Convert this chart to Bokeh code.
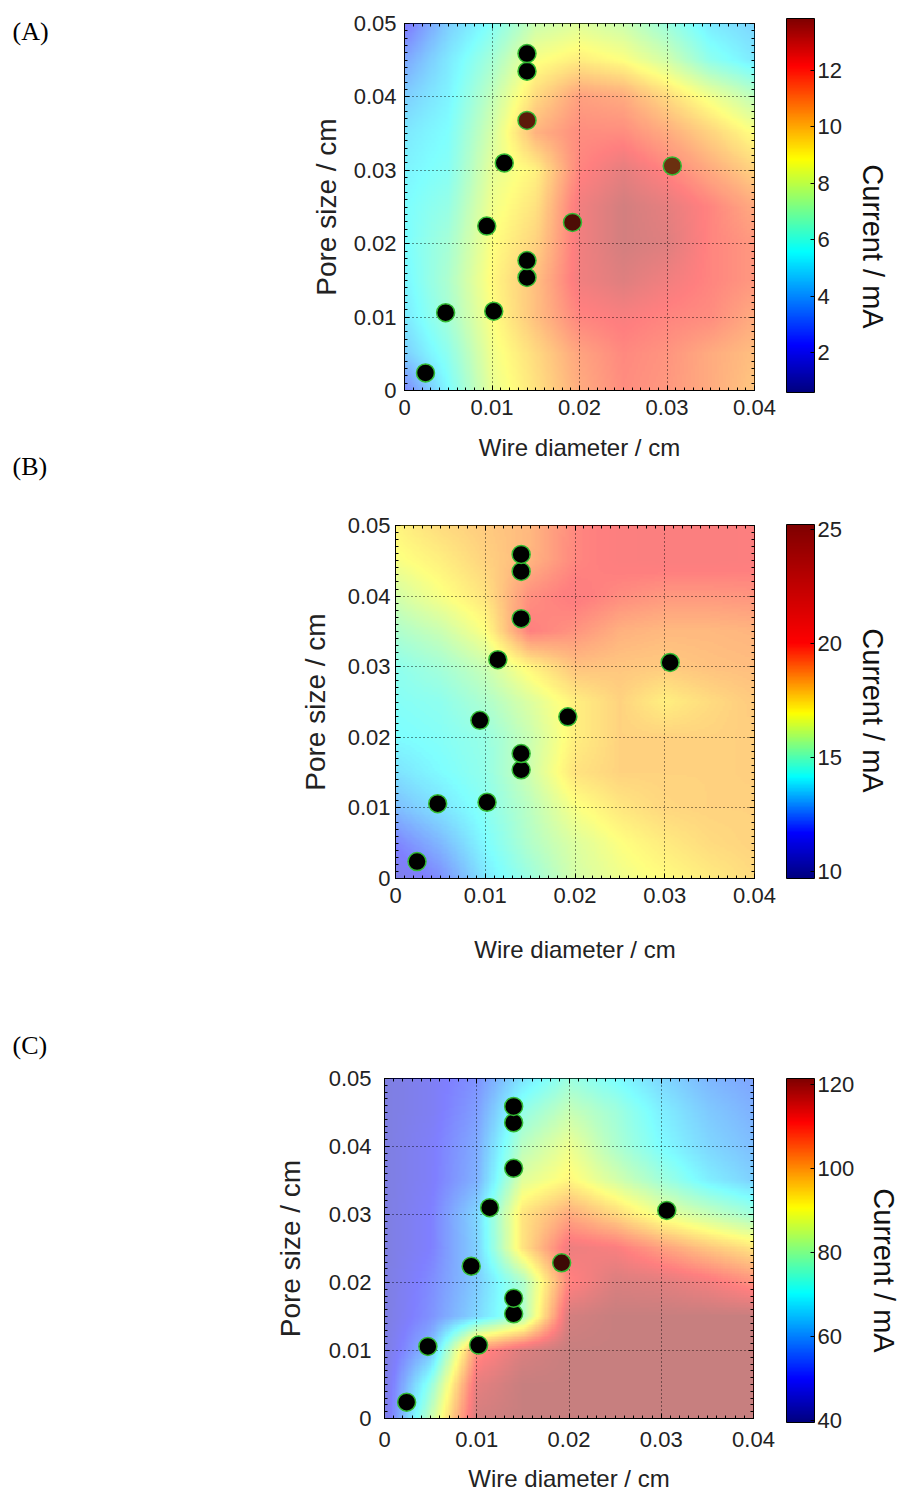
import numpy as np
from math import pi
from bokeh.plotting import figure
from bokeh.models import LinearColorMapper, ColorBar, FixedTicker, LinearAxis, Range1d
from bokeh.core.properties import value
from bokeh.embed import file_html
from bokeh.resources import INLINE

# ---------------- data ----------------
# grid nodes of the interpolated current surface
grid_wire = [0.0, 0.005, 0.01, 0.015, 0.02, 0.025, 0.03, 0.035, 0.04]
grid_pore = [0.0, 0.005, 0.01, 0.015, 0.02, 0.025, 0.03, 0.035, 0.04, 0.045, 0.05]

# current (mA): one row per pore size (ascending), columns = wire diameter
current_a = [
    [2.5, 5.5, 8.3, 9.6, 11.0, 11.8, 11.5, 11.0, 10.3],
    [4.3, 6.0, 8.5, 9.8, 11.2, 11.9, 11.6, 11.0, 10.5],
    [5.0, 6.6, 8.8, 10.5, 12.0, 12.3, 12.0, 11.8, 11.0],
    [5.3, 6.8, 9.0, 10.5, 12.5, 13.0, 12.5, 12.0, 11.5],
    [5.5, 6.6, 8.8, 10.0, 12.5, 13.3, 13.0, 12.0, 11.5],
    [5.5, 6.2, 8.5, 9.6, 12.5, 13.3, 12.8, 12.0, 11.0],
    [5.3, 5.8, 8.2, 9.2, 12.0, 12.8, 12.0, 11.0, 10.0],
    [5.0, 5.6, 7.8, 10.8, 11.8, 11.8, 11.0, 10.0, 8.8],
    [4.3, 5.3, 7.3, 9.8, 11.3, 11.0, 9.8, 8.5, 7.2],
    [3.3, 5.0, 6.6, 8.7, 9.3, 8.8, 7.7, 6.0, 5.0],
    [2.0, 4.3, 5.7, 7.5, 8.0, 7.5, 6.3, 5.0, 4.5],
]
current_b = [
    [11.0, 12.0, 13.7, 14.8, 16.0, 16.6, 17.0, 17.4, 17.8],
    [11.8, 12.8, 14.1, 15.3, 16.2, 16.9, 17.4, 17.8, 18.0],
    [12.9, 13.6, 14.4, 15.5, 16.8, 17.5, 17.9, 18.0, 18.0],
    [13.6, 14.1, 14.6, 15.9, 17.6, 18.0, 18.0, 18.0, 18.1],
    [14.1, 14.3, 14.7, 15.8, 17.3, 18.0, 18.0, 18.0, 18.1],
    [14.3, 14.5, 15.2, 16.2, 17.3, 18.0, 17.3, 17.8, 18.2],
    [14.5, 15.0, 15.8, 17.2, 18.4, 18.3, 18.2, 18.4, 18.5],
    [15.2, 15.8, 16.9, 20.0, 19.5, 18.8, 18.6, 18.6, 18.7],
    [16.0, 16.8, 17.6, 19.6, 20.2, 19.7, 19.4, 19.4, 19.5],
    [16.8, 17.3, 18.0, 18.7, 19.8, 20.2, 20.3, 20.3, 20.2],
    [17.2, 17.8, 18.2, 18.6, 19.8, 20.2, 20.3, 20.3, 20.2],
]
current_c = [
    [45, 82, 118, 120, 120, 120, 120, 120, 120],
    [45, 74, 115, 120, 120, 120, 120, 120, 120],
    [45, 60, 108, 117, 120, 120, 120, 120, 120],
    [45, 53, 64, 78, 118, 120, 120, 120, 120],
    [45, 52, 62, 78, 110, 117, 116, 113, 108],
    [45, 50, 63, 95, 114, 112, 106, 100, 95],
    [45, 50, 64, 95, 104, 97, 88, 82, 76],
    [45, 49, 58, 86, 92, 84, 76, 68, 63],
    [45, 49, 57, 80, 88, 78, 70, 64, 60],
    [45, 48, 55, 74, 82, 76, 68, 62, 58],
    [45, 48, 53, 66, 75, 70, 64, 59, 56],
]

# measured samples
wire_diameter = [0.0024, 0.0047, 0.0102, 0.0094, 0.0114, 0.0140, 0.0140, 0.0140, 0.0140, 0.0140, 0.0192, 0.0306]
pore_size = [0.0024, 0.0106, 0.0108, 0.0224, 0.0310, 0.0154, 0.0177, 0.0368, 0.0435, 0.0459, 0.0229, 0.0306]

x_ticks = [0, 0.01, 0.02, 0.03, 0.04]
x_tick_labels = ["0", "0.01", "0.02", "0.03", "0.04"]
y_ticks = [0, 0.01, 0.02, 0.03, 0.04, 0.05]
y_tick_labels = ["0", "0.01", "0.02", "0.03", "0.04", "0.05"]

cbar_range_a = (0.58, 13.84)
cbar_range_b = (9.7, 25.2)
cbar_range_c = (39.5, 121.5)
cbar_ticks_a = [2, 4, 6, 8, 10, 12]
cbar_ticks_b = [10, 15, 20, 25]
cbar_ticks_c = [40, 60, 80, 100, 120]

panel_labels = ["(A)", "(B)", "(C)"]
x_label = "Wire diameter / cm"
y_label = "Pore size / cm"
c_label = "Current / mA"

# ---------------- style ----------------
SANS = "Liberation Sans"
SERIF = "Liberation Serif"
PAGE_W, PAGE_H = 903, 1494


def jet_color(s):
    r = min(max(1.5 - abs(4 * s - 3), 0), 1)
    g = min(max(1.5 - abs(4 * s - 2), 0), 1)
    b = min(max(1.5 - abs(4 * s - 1), 0), 1)
    return "#%02x%02x%02x" % (int(r * 255), int(g * 255), int(b * 255))


jet = [jet_color(i / 255) for i in range(256)]
# panel B colour bar uses a jet with an extended red part
jet_b = [jet_color(float(np.interp(i / 255, [0, 0.127, 0.286, 0.467, 0.666, 1.0],
                                   [0, 0.125, 0.375, 0.625, 0.875, 1.0]))) for i in range(256)]

minor = [round(i * 0.001, 3) for i in range(0, 51)]


def display_raster(grid, nx=161, ny=201):
    """Smooth display raster of the read grid (bilinear shading between the grid nodes)."""
    g = np.asarray(grid, dtype=float)
    fx = np.linspace(grid_wire[0], grid_wire[-1], nx)
    fy = np.linspace(grid_pore[0], grid_pore[-1], ny)
    rows = np.array([np.interp(fx, grid_wire, r) for r in g])
    out = np.array([np.interp(fy, grid_pore, rows[:, j]) for j in range(nx)]).T
    return out, fx, fy


def make_panel(grid, rng, palette, cticks, pt_colors, L, T, FW, FH, R, B,
               ylab_std, ytick_std, xlab_std, xtick_std, cb_x, cb_y, cb_h):
    W = L + FW + R
    H = T + FH + B
    p = figure(width=W, height=H, output_backend="svg", toolbar_location=None,
               x_range=(x_ticks[0], x_ticks[-1]), y_range=(y_ticks[0], y_ticks[-1]),
               min_border_left=L, min_border_right=R, min_border_top=T, min_border_bottom=B,
               x_axis_label=x_label, y_axis_label=y_label)
    p.outline_line_color = "black"
    p.outline_line_width = 1
    p.background_fill_color = "white"
    p.border_fill_color = "white"

    mapper = LinearColorMapper(palette=palette, low=rng[0], high=rng[1])
    img, fx, fy = display_raster(grid)
    px = fx[1] - fx[0]
    py = fy[1] - fy[0]
    p.image(image=[img], x=fx[0] - px / 2, y=fy[0] - py / 2,
            dw=fx[-1] - fx[0] + px, dh=fy[-1] - fy[0] + py,
            color_mapper=mapper, global_alpha=0.5, level="image")

    p.grid.grid_line_color = "black"
    p.grid.grid_line_dash = "1 3"
    p.grid.grid_line_alpha = 0.85
    p.xgrid.ticker = FixedTicker(ticks=x_ticks)
    p.ygrid.ticker = FixedTicker(ticks=y_ticks)

    p.scatter(wire_diameter, pore_size, size=18, fill_color=pt_colors,
              line_color="#33bb33", line_width=1.5)

    for ax, ticks, labels in ((p.xaxis[0], x_ticks, x_tick_labels), (p.yaxis[0], y_ticks, y_tick_labels)):
        ax.ticker = FixedTicker(ticks=ticks, minor_ticks=minor)
        ax.major_label_overrides = dict(zip(ticks, labels))
        ax.major_tick_in = 5
        ax.major_tick_out = 0
        ax.minor_tick_in = 3
        ax.minor_tick_out = 0
        ax.axis_line_color = "black"
        ax.major_label_text_font = SANS
        ax.major_label_text_font_size = "22px"
        ax.major_label_text_color = "#222222"
        ax.axis_label_text_font = SANS
        ax.axis_label_text_font_style = "normal"
        ax.axis_label_text_color = "#222222"
    p.xaxis[0].axis_label_text_font_size = "24px"
    p.yaxis[0].axis_label_text_font_size = "28px"
    p.xaxis[0].major_label_standoff = xtick_std
    p.xaxis[0].axis_label_standoff = xlab_std
    p.yaxis[0].major_label_standoff = ytick_std
    p.yaxis[0].axis_label_standoff = ylab_std

    # mirrored inward ticks on the top and right edges (no labels)
    for side, ticks in (("above", x_ticks), ("right", y_ticks)):
        a = LinearAxis(ticker=FixedTicker(ticks=ticks, minor_ticks=minor),
                       major_label_text_color=None, major_label_text_font_size="10px",
                       major_tick_in=5, major_tick_out=0,
                       minor_tick_in=3, minor_tick_out=0, axis_line_color=None,
                       major_label_standoff=0)
        p.add_layout(a, side)

    cb = ColorBar(color_mapper=mapper, ticker=FixedTicker(ticks=cticks), location=(cb_x, cb_y),
                  width=28, height=cb_h, padding=0, margin=0, label_standoff=3,
                  bar_line_color="black", major_tick_line_color="black",
                  major_tick_in=4, major_tick_out=0,
                  major_label_text_font=SANS, major_label_text_font_size="22px",
                  major_label_text_color="#222222",
                  border_line_color=None, background_fill_color=None)
    p.add_layout(cb, "center")
    return p


colors_a = ["black"] * 7 + ["#5c1a0a", "black", "black", "#4d0d05", "#6b3010"]
colors_b = ["black"] * 12
colors_c = ["black"] * 10 + ["#3d0a05", "black"]

# Panel A: page y 0..470, frame x 404..754, y 23..390
pA = make_panel(current_a, cbar_range_a, jet, cbar_ticks_a, colors_a,
                L=404, T=23, FW=350, FH=367, R=149, B=80,
                ylab_std=9, ytick_std=8, xlab_std=16, xtick_std=9,
                cb_x=382, cb_y=-2, cb_h=374)
# Panel B: page y 470..1035, frame x 395..754, y 525..878
pB = make_panel(current_b, cbar_range_b, jet_b, cbar_ticks_b, colors_b,
                L=395, T=55, FW=359, FH=353, R=149, B=157,
                ylab_std=14, ytick_std=5, xlab_std=30, xtick_std=9,
                cb_x=391, cb_y=0, cb_h=354)
# Panel C: page y 1035..1494, frame x 384..753, y 1078..1418
pC = make_panel(current_c, cbar_range_c, jet, cbar_ticks_c, colors_c,
                L=384, T=43, FW=369, FH=340, R=150, B=76,
                ylab_std=20, ytick_std=13, xlab_std=15, xtick_std=13,
                cb_x=402, cb_y=-4, cb_h=344)

# free texts (panel letters, colour-bar titles) on a transparent page-size overlay
letter_x = [12, 12, 12]
letter_y = [31, 466, 1045]
clabel_x = [872, 872, 883]
clabel_y = [246, 710, 1270]

ov = figure(width=PAGE_W, height=PAGE_H, x_range=Range1d(0, PAGE_W), y_range=Range1d(0, PAGE_H),
            x_axis_type=None, y_axis_type=None, toolbar_location=None, output_backend="svg",
            min_border=0, outline_line_color=None, background_fill_color=None, border_fill_color=None)
ov.text(x=letter_x, y=[PAGE_H - v for v in letter_y], text=panel_labels,
        text_font=value(SERIF), text_font_size="26px", text_align="left",
        text_baseline="middle", text_color="black")
ov.text(x=clabel_x, y=[PAGE_H - v for v in clabel_y], text=[c_label] * 3, angle=-pi / 2,
        text_font=value(SANS), text_font_size="29px", text_align="center",
        text_baseline="middle", text_color="#111111")
ov.styles = {"position": "absolute", "left": "0px", "top": "0px", "z-index": "5"}

open("out.html", "w").write(file_html([pA, pB, pC, ov], INLINE))
